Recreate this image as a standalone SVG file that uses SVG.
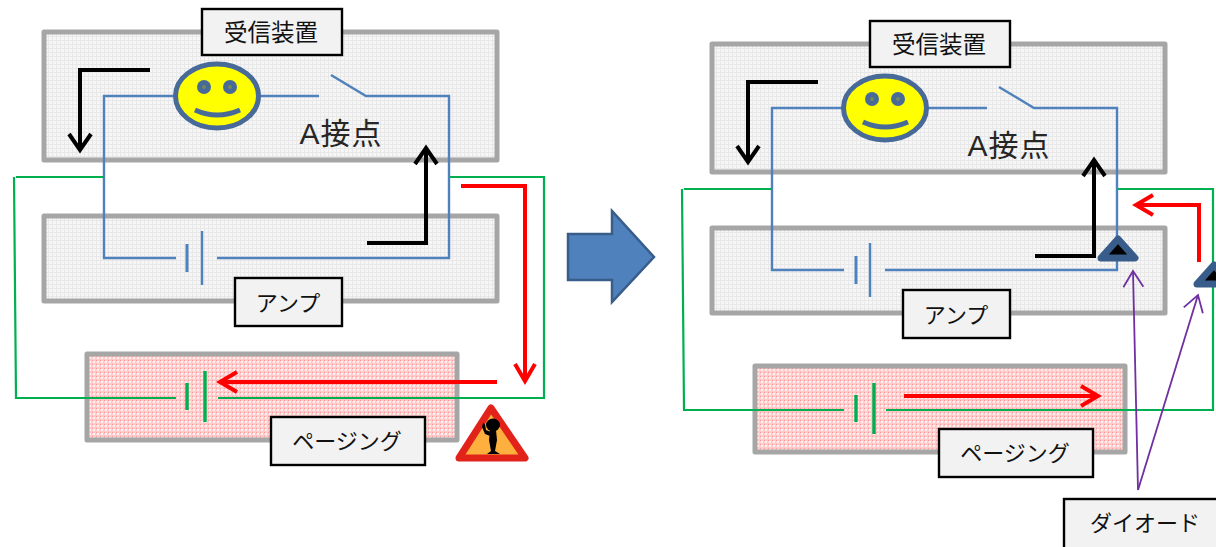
<svg xmlns="http://www.w3.org/2000/svg" width="1216" height="547" viewBox="0 0 1216 547">
<style>
text{font-family:"Liberation Sans","Noto Sans CJK JP",sans-serif;fill:#111;text-anchor:middle}
.panel{stroke:#a6a6a6;stroke-width:5;stroke-linejoin:round}
.gray{fill:url(#dotG)}.pink{fill:url(#dotR)}
rect.label{fill:#f2f2f2;stroke:#000;stroke-width:2.4}
.lbl{font-size:22px}
.contact{font-size:30px;fill:#262626;letter-spacing:1px}
.blue{fill:none;stroke:#4f81bd;stroke-width:2.400}
.blue2{fill:none;stroke:#4f81bd;stroke-width:3}
.green{fill:none;stroke:#00b050;stroke-width:2.200}
.green2{fill:none;stroke:#00b050;stroke-width:3.400}
.black{fill:none;stroke:#000;stroke-width:4;marker-end:url(#hk)}
.red{fill:none;stroke:#f00;stroke-width:4;marker-end:url(#hr)}
.purple{fill:none;stroke:#7030a0;stroke-width:1.800;marker-end:url(#hp)}
.diode{fill:#000;stroke:#385d8a;stroke-width:7;stroke-linejoin:round}
.face{fill:#ff0;stroke:#476a99;stroke-width:5}
.eye{fill:#6f8a5a;stroke:#476a99;stroke-width:5}
.smile{fill:none;stroke:#476a99;stroke-width:5}
</style>
<defs>
<pattern id="dotG" width="4" height="4" patternUnits="userSpaceOnUse"><rect width="4" height="4" fill="#f6f6f6"/><rect x="0" y="0" width="1" height="4" fill="#e8e8e8"/><rect x="0" y="0" width="4" height="1" fill="#e8e8e8"/></pattern>
<pattern id="dotR" width="4" height="4" patternUnits="userSpaceOnUse"><rect width="4" height="4" fill="#ffcaca"/><rect x="1" y="1" width="2" height="2" fill="#fff0f0"/><rect x="0" y="0" width="1" height="1" fill="#f99"/></pattern>
<marker id="hk" markerUnits="userSpaceOnUse" markerWidth="30" markerHeight="30" refX="17" refY="11" orient="auto" overflow="visible"><path d="M1 0L17 11L1 22" fill="none" stroke="#000" stroke-width="4"/></marker>
<marker id="hr" markerUnits="userSpaceOnUse" markerWidth="30" markerHeight="30" refX="17" refY="10" orient="auto" overflow="visible"><path d="M0 0L17 10L0 20" fill="none" stroke="#f00" stroke-width="4"/></marker>
<marker id="hp" markerUnits="userSpaceOnUse" markerWidth="30" markerHeight="30" refX="16" refY="10" orient="auto" overflow="visible"><path d="M0 0L16 10L0 20" fill="none" stroke="#7030a0" stroke-width="1.800"/></marker>
</defs>

<g id="recv-left"><rect class="panel gray" x="44" y="32" width="453" height="128"/></g>
<g id="amp-left"><rect class="panel gray" x="44" y="216" width="453" height="85"/></g>
<g id="page-left"><rect class="panel pink" x="87" y="354" width="370" height="86"/></g>
<g id="recv-right"><rect class="panel gray" x="712" y="44" width="453" height="128"/></g>
<g id="amp-right"><rect class="panel gray" x="712" y="228" width="453" height="85"/></g>
<g id="page-right"><rect class="panel pink" x="755" y="366" width="370" height="86"/></g>

<g id="connectors">
<path class="blue" d="M174 96H104V258H176M217 258H449V96H366L331 75M319 96H260"/>
<path class="blue2" d="M187 244V272"/><path class="blue" d="M202 231V285"/>
<path class="green" d="M104 177H16M14 177L16 398H176M218 398H544V177H450"/>
<path class="green2" d="M187 383V410M205 371V422"/>
<path class="black" d="M150 70H80V150"/>
<path class="black" d="M367 243H426V148"/>
<path class="red" d="M461 186H525V381"/>
<path class="red" d="M497 382H220"/>

<path class="blue" d="M842 108H772V270H844M885 270H1117V108H1034L999 87M987 108H928"/>
<path class="blue2" d="M856 256V284"/><path class="blue" d="M870 243V297"/>
<path class="green" d="M772 189H684M682 189L684 410H844M886 410H1213V189H1118"/>
<path class="green2" d="M856 395V422M874 383V434"/>
<path class="black" d="M818 82H748V162"/>
<path class="black" d="M1035 256H1094V160"/>
<path class="red" d="M1199 262V205H1136"/>
<path class="red" d="M904 396H1098"/>
<path class="purple" d="M1138 490L1133 271"/>
<path class="purple" d="M1138 490L1198 295"/>
</g>

<g id="smiley-left"><ellipse class="face" cx="217" cy="96" rx="41.500" ry="32"/><circle class="eye" cx="204" cy="87" r="4.500"/><circle class="eye" cx="230" cy="87" r="4.500"/><path class="smile" d="M195 110Q217 120 240 110"/></g>
<g id="smiley-right"><ellipse class="face" cx="885" cy="108" rx="41.500" ry="32"/><circle class="eye" cx="872" cy="99" r="4.500"/><circle class="eye" cx="898" cy="99" r="4.500"/><path class="smile" d="M863 122Q885 132 908 122"/></g>

<g id="contact-left"><text class="contact" x="341" y="144">A接点</text></g>
<g id="contact-right"><text class="contact" x="1009" y="156">A接点</text></g>

<g id="diode-1"><path class="diode" d="M1118 239L1135 258H1101Z"/></g>
<g id="diode-2"><path class="diode" d="M1214 265L1231 284H1197Z"/></g>

<g id="warning">
<path d="M491 408L525 458H459Z" fill="#fdb03d" stroke="#e2231a" stroke-width="7" stroke-linejoin="round"/>
<ellipse cx="493" cy="425" rx="7" ry="6.500"/>
<path d="M490 430H496L497 440L495 451L500 454H487L491 451L489 440ZM490 436L485 434L482 427L483 423L485 424L486 430L491 432Z" fill="#000"/>
</g>

<g id="label-recv-left"><rect class="label" x="202" y="9" width="140" height="46"/><text class="lbl" x="271" y="41" style="font-size:23.500px">受信装置</text></g>
<g id="label-amp-left"><rect class="label" x="235" y="278" width="107" height="48"/><text class="lbl" x="288" y="311">アンプ</text></g>
<g id="label-page-left"><rect class="label" x="271" y="417" width="154" height="48"/><text class="lbl" x="347" y="449">ページング</text></g>
<g id="label-recv-right"><rect class="label" x="870" y="21" width="140" height="46"/><text class="lbl" x="939" y="53" style="font-size:23.500px">受信装置</text></g>
<g id="label-amp-right"><rect class="label" x="903" y="290" width="107" height="48"/><text class="lbl" x="956" y="323">アンプ</text></g>
<g id="label-page-right"><rect class="label" x="939" y="429" width="154" height="48"/><text class="lbl" x="1015" y="461">ページング</text></g>
<g id="label-diode"><rect class="label" x="1064" y="499" width="160" height="50"/><text class="lbl" x="1145" y="531">ダイオード</text></g>

<g id="big-arrow"><path d="M568 234H612V211L654 257L612 302V280H568Z" fill="#4f81bd" stroke="#385d8a" stroke-width="2.500"/></g>
</svg>
